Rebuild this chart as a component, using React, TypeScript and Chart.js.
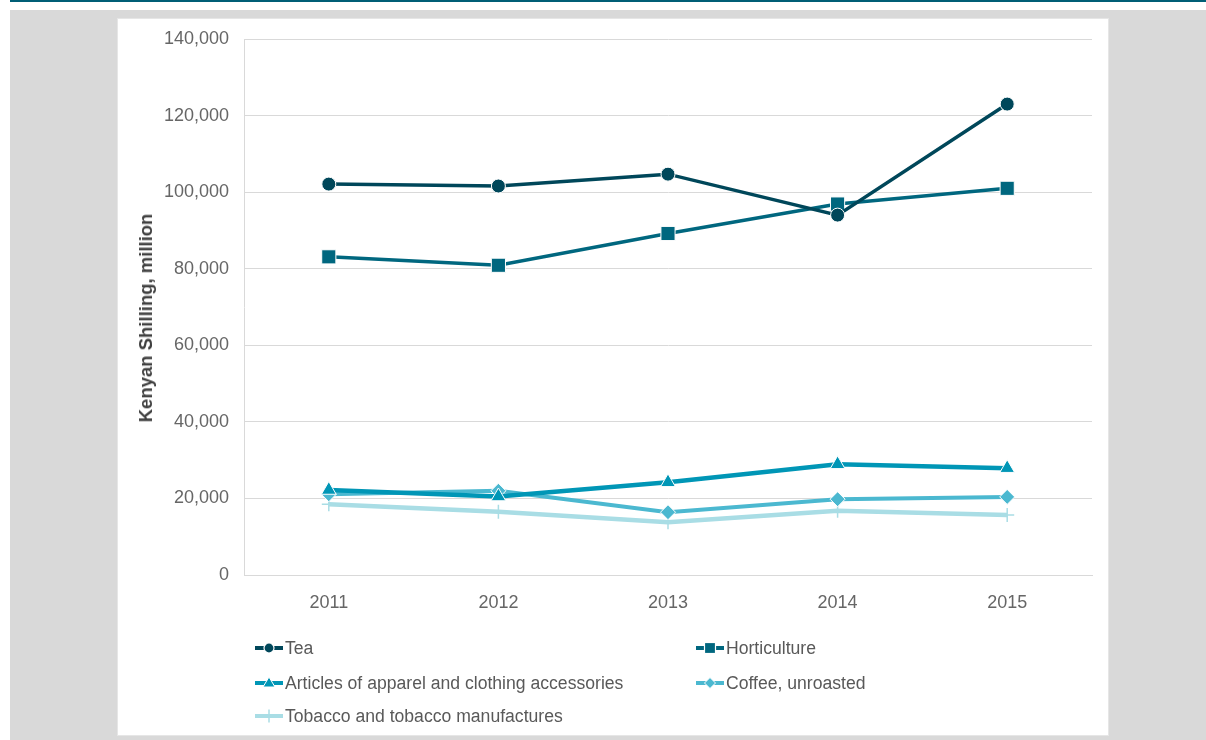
import React, { useEffect, useRef } from "react";
import { Chart, registerables } from "chart.js";

Chart.register(...registerables);

const years = ["2011", "2012", "2013", "2014", "2015"];
const tea = [102100, 101600, 104700, 94000, 123000];
const horticulture = [83100, 80900, 89200, 96900, 101000];
const apparel = [22200, 20500, 24200, 28900, 27900];
const coffee = [21100, 22000, 16400, 19800, 20400];
const tobacco = [18500, 16500, 13800, 16800, 15700];
const yTicks = [0, 20000, 40000, 60000, 80000, 100000, 120000, 140000];

const C_TEA = "#00475a";
const C_HORT = "#00677f";
const C_APP = "#0096b6";
const C_COF = "#4bb8d0";
const C_TOB = "#a9dde5";

const FONT = "'Liberation Sans', Arial, Helvetica, sans-serif";
const TXT = "#666666";

type LegendItem = { label: string; color: string; marker: string; left: number; top: number };

const legendItems: LegendItem[] = [
  { label: "Tea", color: C_TEA, marker: "circle", left: 255, top: 648 },
  { label: "Horticulture", color: C_HORT, marker: "rect", left: 696, top: 648 },
  { label: "Articles of apparel and clothing accessories", color: C_APP, marker: "triangle", left: 255, top: 683 },
  { label: "Coffee, unroasted", color: C_COF, marker: "diamond", left: 696, top: 683 },
  { label: "Tobacco and tobacco manufactures", color: C_TOB, marker: "cross", left: 255, top: 716 },
];

function Icon({ color, marker }: { color: string; marker: string }) {
  let m: React.ReactNode = null;
  if (marker === "circle") m = <circle cx={14} cy={8} r={5} fill={color} stroke="#fff" strokeWidth={1.2} />;
  if (marker === "rect") m = <rect x={8.5} y={2.5} width={11} height={11} fill={color} stroke="#fff" strokeWidth={1.2} />;
  if (marker === "triangle") m = <polygon points="14,2 20,12 8,12" fill={color} stroke="#fff" strokeWidth={1} />;
  if (marker === "diamond") m = <polygon points="14,2.5 19.5,8 14,13.5 8.5,8" fill={color} stroke="#fff" strokeWidth={1} />;
  if (marker === "cross") m = <line x1={14} y1={1.5} x2={14} y2={14.5} stroke={color} strokeWidth={1.5} />;
  return (
    <svg width={28} height={16} style={{ position: "absolute", left: 0, top: -8 }}>
      <line x1={0} y1={8} x2={28} y2={8} stroke={color} strokeWidth={4} />
      {m}
    </svg>
  );
}

export default function App() {
  const ref = useRef<HTMLCanvasElement | null>(null);

  useEffect(() => {
    if (!ref.current) return;
    const common = { pointBorderColor: "#ffffff", pointBorderWidth: 1, tension: 0, fill: false };
    const chart = new Chart(ref.current, {
      type: "line",
      data: {
        labels: years,
        datasets: [
          { ...common, label: "Tea", data: tea, borderColor: C_TEA, backgroundColor: C_TEA, pointBackgroundColor: C_TEA, borderWidth: 3.5, pointStyle: "circle", pointRadius: 7 },
          { ...common, label: "Horticulture", data: horticulture, borderColor: C_HORT, backgroundColor: C_HORT, pointBackgroundColor: C_HORT, borderWidth: 3.5, pointStyle: "rect", pointRadius: 10 },
          { ...common, label: "Articles of apparel and clothing accessories", data: apparel, borderColor: C_APP, backgroundColor: C_APP, pointBackgroundColor: C_APP, borderWidth: 4.5, pointStyle: "triangle", pointRadius: 8.5 },
          { ...common, label: "Coffee, unroasted", data: coffee, borderColor: C_COF, backgroundColor: C_COF, pointBackgroundColor: C_COF, borderWidth: 4, pointStyle: "rectRot", pointRadius: 7.5 },
          { ...common, label: "Tobacco and tobacco manufactures", data: tobacco, borderColor: C_TOB, backgroundColor: C_TOB, pointBackgroundColor: C_TOB, pointBorderColor: C_TOB, pointBorderWidth: 1.5, borderWidth: 4.5, pointStyle: "cross", pointRadius: 7 },
        ],
      },
      options: {
        animation: false,
        responsive: false,
        maintainAspectRatio: false,
        layout: { padding: { left: 0, top: 20, right: 16, bottom: 0 } },
        plugins: { legend: { display: false }, tooltip: { enabled: false }, title: { display: false } },
        scales: {
          x: {
            offset: true,
            grid: { display: false, drawTicks: false },
            border: { display: true, color: "#d9d9d9", width: 1 },
            ticks: { color: TXT, font: { family: FONT, size: 18 }, padding: 17, maxRotation: 0 },
            afterFit: (s: any) => { s.height = 160; s.paddingLeft = 0; s.paddingRight = 0; },
          },
          y: {
            min: 0,
            max: 140000,
            afterBuildTicks: (s: any) => { s.ticks = yTicks.map((v) => ({ value: v })); },
            grid: { color: "#d9d9d9", lineWidth: 1, drawTicks: false },
            border: { display: true, color: "#d9d9d9", width: 1 },
            ticks: {
              color: TXT,
              font: { family: FONT, size: 18 },
              padding: 15,
              callback: (v: any) => Number(v).toLocaleString("en-US"),
            },
            afterFit: (s: any) => { s.width = 126; s.paddingTop = 0; s.paddingBottom = 0; },
          },
        },
      },
    });
    return () => chart.destroy();
  }, []);

  return (
    <div style={{ position: "absolute", left: 0, top: 0, width: 1206, height: 740, background: "#ffffff", overflow: "hidden", fontFamily: FONT }}>
      <div style={{ position: "absolute", left: 10, top: 0, width: 1196, height: 2, background: "#005e75" }} />
      <div style={{ position: "absolute", left: 10, top: 10, width: 1196, height: 730, background: "#d9d9d9" }} />
      <div style={{ position: "absolute", left: 117, top: 18, width: 992, height: 718, background: "#e6e6e6" }} />
      <div style={{ position: "absolute", left: 118, top: 19, width: 990, height: 716, background: "#ffffff" }} />
      <canvas ref={ref} width={990} height={716} style={{ position: "absolute", left: 118, top: 19, width: 990, height: 716 }} />
      <div
        style={{
          position: "absolute",
          left: 146,
          top: 318,
          transform: "translate(-50%, -50%) rotate(-90deg)",
          whiteSpace: "nowrap",
          fontWeight: 700,
          fontSize: 18.5,
          color: "#404040",
          lineHeight: "22px",
        }}
      >
        Kenyan Shilling, million
      </div>
      {legendItems.map((it) => (
        <div key={it.label} style={{ position: "absolute", left: it.left, top: it.top, height: 0 }}>
          <Icon color={it.color} marker={it.marker} />
          <div style={{ position: "absolute", left: 30, top: -11, whiteSpace: "nowrap", fontSize: 17.6, lineHeight: "22px", color: "#595959" }}>
            {it.label}
          </div>
        </div>
      ))}
    </div>
  );
}
